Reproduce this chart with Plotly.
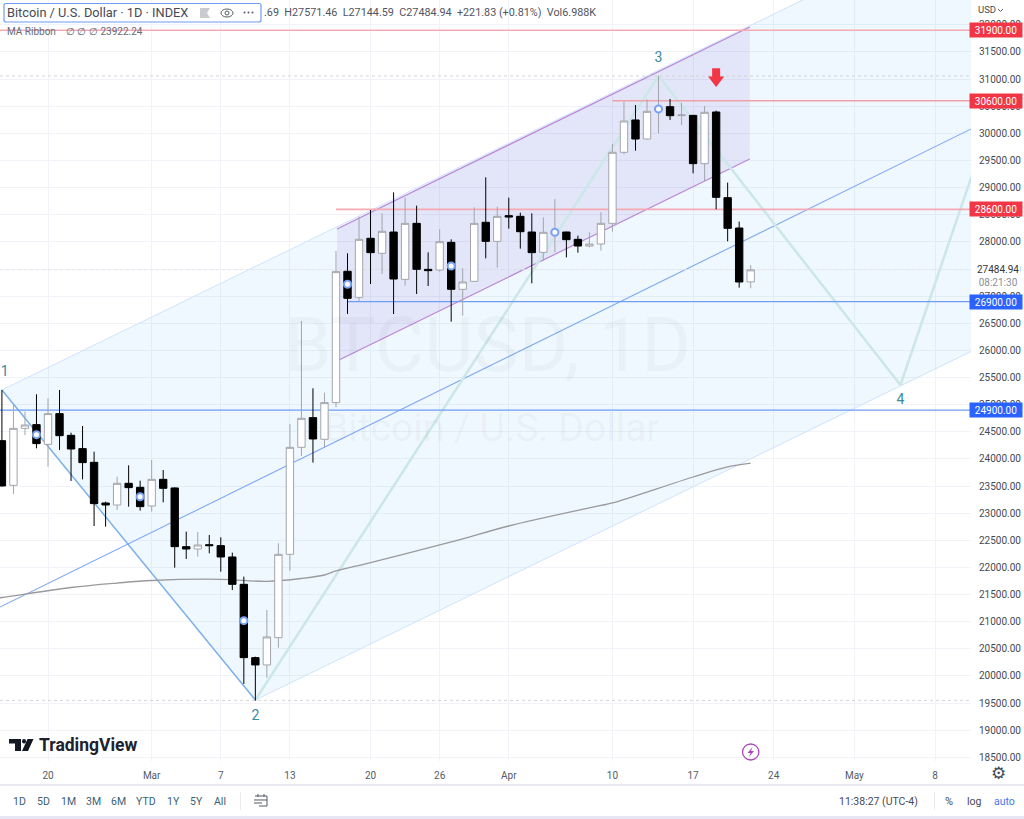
import pandas as pd
import plotly.graph_objects as go

# daily candles
candle_dates = pd.date_range("2023-02-16", "2023-04-22", freq="D")
candle_open = [24337, 23514, 24564, 24632, 24269, 24835, 24435, 24190, 23938, 23188, 23151, 23551, 23477,
               23133, 23624, 23465, 22383, 22340, 22420, 22402, 22193, 21689, 20338, 20203, 20706, 22242,
               24214, 24761, 24362, 25038, 27458, 26978, 28066, 27789, 28182, 27310, 28342, 27494, 27482,
               27992, 27126, 27273, 28361, 28010,
               28483, 28471, 28182, 27808, 28145, 28182, 28047, 27924, 27961, 28342, 29651, 30247, 29896,
               30419, 30492, 30326, 30332, 29442, 30394, 28815, 28256, 27263]
candle_high = [25271, 24994, 24871, 25191, 25117, 25271, 24484, 24607, 24134, 23213, 23673, 23882, 23600,
               23981, 23796, 23477, 22660, 22654, 22598, 22555, 22273, 21831, 20356, 21216, 22445, 24644,
               26543, 25302, 25222, 27833, 27790, 28465, 28588, 28526, 28913, 28815, 28668, 27808, 28232,
               28047, 27513, 28637, 29190, 28649,
               28815, 28539, 28526, 28453, 28790, 28188, 28115, 28176, 28545, 29804, 30584, 30523, 30627,
               31057, 30634, 30566, 30339, 30505, 30419, 29092, 28373, 27571]
candle_low = [23490, 23354, 24441, 24196, 23858, 24165, 23594, 23624, 22764, 22752, 23059, 23121, 23047,
              23028, 23200, 21996, 22156, 22199, 22261, 21923, 21585, 19853, 19545, 19969, 20522, 21941,
              24055, 23932, 24214, 24952, 26672, 26898, 27224, 27408, 26671, 27193, 27040, 27187, 27451,
              26530, 26640, 27273, 27697, 27525,
              28244, 27875, 27236, 27654, 27808, 27715, 27802, 27900, 27838, 28189, 29614, 29681, 29884,
              30001, 30247, 30154, 29264, 29122, 28600, 28010, 27157, 27145]
candle_close = [23502, 24564, 24626, 24282, 24835, 24429, 24183, 23932, 23176, 23151, 23551, 23471, 23121,
                23624, 23458, 22383, 22340, 22414, 22402, 22193, 21689, 20338, 20203, 20719, 22242, 24214,
                24749, 24368, 25038, 27452, 26960, 28047, 27802, 28195, 27316, 28342, 27494, 27470, 28004,
                27126, 27261, 28342, 28010, 28471,
                28459, 28188, 27802, 28176, 28195, 28041, 27924, 27961, 28342, 29651, 30228, 29896, 30406,
                30480, 30326, 30339, 29442, 30388, 28821, 28250, 27261, 27485]

# MA Ribbon line
ma_dates = ["2023-02-15", "2023-02-16", "2023-02-22", "2023-02-26", "2023-03-01", "2023-03-07", "2023-03-11",
            "2023-03-14", "2023-03-16", "2023-03-17", "2023-03-20", "2023-03-26", "2023-03-28", "2023-04-01",
            "2023-04-09", "2023-04-10", "2023-04-17", "2023-04-20", "2023-04-22"]
ma_values = [21419, 21446, 21631, 21713, 21760, 21782, 21745, 21797, 21861, 21935, 22088, 22414, 22525, 22764,
             23142, 23188, 23667, 23852, 23922]

# hand drawn channels and wave count
far_date = "2023-05-20"
fork_dates = ["2023-02-16", far_date, far_date, "2023-03-10", "2023-02-16"]
fork_prices = [25271, 34887, 26898, 19557, 25271]
median_dates = ["2023-02-15 20:00", far_date]
median_prices = [21271, 31008]
impulse_dates = ["2023-02-16", "2023-03-10"]
impulse_prices = [25271, 19557]
channel_dates = ["2023-03-17 02:00", "2023-04-21 22:00", "2023-04-21 22:00", "2023-03-17 02:00", "2023-03-17 02:00"]
channel_prices = [28238, 31961, 29528, 25805, 28238]
wave_dates = ["2023-03-10", "2023-04-14", "2023-05-05", far_date]
wave_prices = [19557, 31058, 25363, 34706]
wave_label_text = ["1", "2", "3", "4"]
wave_label_dates = ["2023-02-16 06:00", "2023-03-10", "2023-04-14", "2023-05-05"]
wave_label_prices = [25584, 19244, 31371, 25086]

level_prices = [31900, 30600, 28600, 26900, 24900]
level_starts = ["2023-02-10", "2023-04-10", "2023-03-17", "2023-03-18", "2023-02-10"]
level_colors = ["#f6a9b2", "#f1a0aa", "#f6a9b2", "#6f9cf5", "#6f9cf5"]
level_widths = [1.6, 1.6, 1.6, 1.3, 1.1]
badge_colors = ["#f23645", "#f23645", "#f23645", "#2962ff", "#2962ff"]
dotted_prices = [31058, 19550]
last_price = 27484.94
arrow_date = "2023-04-19"
arrow_tail = [31200, 31000]
arrow_head = 30984

signal_dates = ["2023-02-19", "2023-02-28", "2023-03-09", "2023-03-18", "2023-03-27", "2023-04-05", "2023-04-14"]
signal_prices = [24447, 23304, 21019, 27219, 27556, 28177, 30450]

price_ticks = [18500, 19000, 19500, 20000, 20500, 21000, 21500, 22000, 22500, 23000, 23500, 24000, 24500, 25000,
               25500, 26000, 26500, 27000, 27500, 28000, 28500, 29000, 29500, 30000, 30500, 31000, 31500, 32000]
tick_dates = ["2023-02-20", "2023-03-01", "2023-03-07", "2023-03-13", "2023-03-20", "2023-03-26", "2023-04-01",
              "2023-04-10", "2023-04-17", "2023-04-24", "2023-05-01", "2023-05-08"]
tick_labels = ["20", "Mar", "7", "13", "20", "26", "Apr", "10", "17", "24", "May", "8"]
toolbar_labels = ["1D", "5D", "1M", "3M", "6M", "YTD", "1Y", "5Y", "All"]
toolbar_x = [19, 43, 68, 93, 118, 146, 173, 196, 220]

WIDTH = 1024
HEIGHT = 819
PANE_RIGHT = 971
PANE_BOTTOM = 761
x_range = ["2023-02-15 20:00", "2023-05-11 03:00"]
y_range = [18433, 32458]
FONT = "Roboto"


def px(x):
    return x / WIDTH


def py(y):
    return 1 - y / HEIGHT


def label(x, y, text, size=10, color="#555b66", anchor="center", **kw):
    return dict(xref="paper", yref="paper", x=px(x), y=py(y), text=text, showarrow=False, xanchor=anchor,
                yanchor="middle", font=dict(family=FONT, size=size, color=color), **kw)


def box(x0, y0, x1, y1, fill, line=None, kind="rect", width=1):
    return dict(type=kind, xref="paper", yref="paper", x0=px(x0), x1=px(x1), y0=py(y0), y1=py(y1),
                fillcolor=fill, line=dict(color=line or "rgba(0,0,0,0)", width=width), layer="above")


def pixel_path(points, fill=None, line=None, width=1, closed=True):
    d = "M " + " L ".join(f"{px(a):.5f} {py(b):.5f}" for a, b in points) + (" Z" if closed else "")
    return dict(type="path", xref="paper", yref="paper", path=d, fillcolor=fill or "rgba(0,0,0,0)",
                line=dict(color=line or "rgba(0,0,0,0)", width=width), layer="above")


fig = go.Figure()

# drawings stay on the base axes so the candles sit on top of them
fig.add_trace(go.Scatter(x=fork_dates, y=fork_prices, mode="none", fill="toself",
                         fillcolor="rgba(33,150,243,0.07)"))
fig.add_trace(go.Scatter(x=fork_dates[:2], y=fork_prices[:2], mode="lines", line=dict(color="#cfe3fb", width=1)))
fig.add_trace(go.Scatter(x=fork_dates[2:4], y=fork_prices[2:4], mode="lines", line=dict(color="#cfe3fb", width=1)))
fig.add_trace(go.Scatter(x=channel_dates, y=channel_prices, mode="none", fill="toself",
                         fillcolor="rgba(103,58,183,0.09)"))
fig.add_trace(go.Scatter(x=channel_dates[:2], y=channel_prices[:2], mode="lines", line=dict(color="#bb86d8", width=1.2)))
fig.add_trace(go.Scatter(x=channel_dates[2:4], y=channel_prices[2:4], mode="lines", line=dict(color="#bb86d8", width=1.2)))
fig.add_trace(go.Scatter(x=median_dates, y=median_prices, mode="lines", line=dict(color="#7fa8f3", width=1.1)))
fig.add_trace(go.Scatter(x=impulse_dates, y=impulse_prices, mode="lines", line=dict(color="#7db0e8", width=1.5)))
fig.add_trace(go.Scatter(x=wave_dates, y=wave_prices, mode="lines", line=dict(color="#cde7e9", width=2.6)))
fig.add_trace(go.Scatter(x=ma_dates, y=ma_values, mode="lines", line=dict(color="#9a9a9e", width=1.3, shape="spline")))

for i in range(len(level_prices)):
    fig.add_trace(go.Scatter(x=[level_starts[i], far_date], y=[level_prices[i], level_prices[i]], mode="lines",
                             line=dict(color=level_colors[i], width=level_widths[i])))
for p in dotted_prices:
    fig.add_trace(go.Scatter(x=[x_range[0], far_date], y=[p, p], mode="lines",
                             line=dict(color="#cdcfd6", width=0.9, dash="dot")))
fig.add_trace(go.Scatter(x=[x_range[0], far_date], y=[last_price, last_price], mode="lines",
                         line=dict(color="#e6e8ee", width=1, dash="dot")))

fig.add_trace(go.Scatter(x=[arrow_date, arrow_date], y=arrow_tail, mode="lines",
                         line=dict(color="#f23645", width=8)))
fig.add_trace(go.Scatter(x=[arrow_date], y=[arrow_head], mode="markers",
                         marker=dict(symbol="triangle-down", size=14, color="#f23645")))
fig.add_trace(go.Scatter(x=wave_label_dates, y=wave_label_prices, mode="text", text=wave_label_text, cliponaxis=False,
                         textfont=dict(family=FONT, size=14, color="#3a8aa3")))

fig.add_trace(go.Candlestick(x=candle_dates, open=candle_open, high=candle_high, low=candle_low, close=candle_close,
                             xaxis="x2", yaxis="y2", whiskerwidth=0,
                             increasing=dict(line=dict(color="#a3a5aa", width=1), fillcolor="#ffffff"),
                             decreasing=dict(line=dict(color="#000000", width=1), fillcolor="#000000")))
fig.add_trace(go.Scatter(x=signal_dates, y=signal_prices, mode="markers", xaxis="x2", yaxis="y2",
                         marker=dict(symbol="circle", size=7, color="#ffffff", line=dict(color="#7ba2f2", width=2))))

annotations = [
    dict(xref="paper", yref="paper", x=px(487), y=py(345), text="BTCUSD, 1D", showarrow=False,
         font=dict(family=FONT, size=76, color="rgba(42,46,57,0.035)")),
    dict(xref="paper", yref="paper", x=px(492), y=py(428), text="Bitcoin / U.S. Dollar", showarrow=False,
         font=dict(family=FONT, size=39, color="rgba(42,46,57,0.05)")),
    label(7, 13, "Bitcoin / U.S. Dollar · 1D · INDEX", size=12.8, color="#444a55", anchor="left", xshift=-2),
    label(262, 13, ".69  H27571.46  L27144.59  C27484.94  +221.83 (+0.81%)  Vol6.988K", size=10.8,
          color="#50555f", anchor="left"),
    label(7, 32, "MA Ribbon", size=10, color="#666b75", anchor="left", xshift=-2),
    label(64, 32, "∅ ∅ ∅ 23922.24", size=10, color="#666b75", anchor="left"),
    label(987, 10, "USD", size=9.5, color="#444a55"),
    label(88, 745, "<b>TradingView</b>", size=17.5, color="#1e222d"),
    label(878, 801, "11:38:27 (UTC-4)", size=10.5, color="#444a55"),
    label(949, 801, "%", size=11, color="#444a55"),
    label(974, 801, "log", size=10.5, color="#444a55"),
    label(1004, 801, "auto", size=10.5, color="#3f78f0"),
    label(998, 773, "⚙", size=17, color="#444a55"),
]
annotations[-1]["font"]["family"] = "DejaVu Sans"
for i in range(len(toolbar_labels)):
    annotations.append(label(toolbar_x[i], 801, toolbar_labels[i], size=10.5, color="#3b5f72"))

# price scale labels, then the tags that cover some of them
for p in price_ticks:
    annotations.append(dict(xref="paper", yref="y", x=px(978), y=p, text=f"{p:.2f}", xanchor="left", showarrow=False,
                            borderpad=0, font=dict(family=FONT, size=10, color="#444a55")))
for i in range(len(level_prices)):
    annotations.append(dict(xref="paper", yref="y", x=px(996), y=level_prices[i], text=f"{level_prices[i]:.2f}",
                            xanchor="center", showarrow=False, width=50, height=12, bgcolor=badge_colors[i],
                            align="center", font=dict(family=FONT, size=10, color="#ffffff")))
annotations.append(label(998, 276, "27484.94<br><span style='color:#8a8e98'>08:21:30</span>", size=10,
                         color="#333742", bgcolor="#ffffff", borderpad=1))

shapes = [
    box(0, 784, 1024, 786, "#e9eaef"),
    box(0, 816, 1024, 819, "#e6e6f5"),
    box(240, 792, 240.8, 810, "#e6e7ec"),
    box(934, 792, 934.8, 810, "#e6e7ec"),
    # legend box and its icons
    dict(type="path", xref="paper", yref="paper", fillcolor="#ffffff", line=dict(color="#6f9cf5", width=1.2),
         layer="above",
         path=f"M {px(6)} {py(3.5)} L {px(259)} {py(3.5)} Q {px(261)} {py(3.5)} {px(261)} {py(5.5)} L {px(261)} {py(20)} "
              f"Q {px(261)} {py(22)} {px(259)} {py(22)} L {px(6)} {py(22)} Q {px(4)} {py(22)} {px(4)} {py(20)} "
              f"L {px(4)} {py(5.5)} Q {px(4)} {py(3.5)} {px(6)} {py(3.5)} Z"),
    pixel_path([(200, 8), (210, 8), (207, 13), (210, 18), (200, 18)], fill="#c9cbd0"),
    box(221, 9, 233, 17, "rgba(0,0,0,0)", line="#555b66", kind="circle"),
    box(225, 11, 229, 15, "rgba(0,0,0,0)", line="#555b66", kind="circle"),
    box(243.5, 11.5, 245.5, 13.5, "#555b66", kind="circle"),
    box(247.5, 11.5, 249.5, 13.5, "#555b66", kind="circle"),
    box(251.5, 11.5, 253.5, 13.5, "#555b66", kind="circle"),
    # chevron next to USD
    pixel_path([(998, 9), (1000.5, 11.5), (1003, 9)], line="#555b66", closed=False),
    # TradingView logo
    pixel_path([(9, 739), (21, 739), (21, 751), (15, 751), (15, 743.5), (9, 743.5)], fill="#131722"),
    box(22, 739, 26, 743.5, "#131722", kind="circle"),
    pixel_path([(27.5, 739), (33.5, 739), (28, 751), (22, 751)], fill="#131722"),
    # lightning circle
    box(742.5, 744, 758.9, 760, "rgba(0,0,0,0)", line="#ab47bc", kind="circle", width=1.3),
    pixel_path([(752.5, 747), (747.5, 753), (750.5, 753), (749, 757), (754, 751), (751, 751)], fill="#ab47bc"),
    # calendar icon
    pixel_path([(255, 796), (267, 796), (267, 806), (259, 806)], line="#555b66", closed=False),
    pixel_path([(254, 800), (267, 800)], line="#555b66", closed=False),
    pixel_path([(254, 803), (262, 803)], line="#555b66", closed=False),
    pixel_path([(258, 794), (258, 797)], line="#555b66", closed=False),
    pixel_path([(264, 794), (264, 797)], line="#555b66", closed=False),
]

fig.update_layout(
    width=WIDTH, height=HEIGHT, margin=dict(l=0, r=0, t=0, b=0), autosize=False,
    paper_bgcolor="#ffffff", plot_bgcolor="#ffffff", showlegend=False, hovermode=False,
    font=dict(family=FONT, size=10, color="#555b66"),
    annotations=annotations, shapes=shapes,
    boxgap=0.2, boxgroupgap=0.2,
    xaxis=dict(type="date", domain=[0, px(PANE_RIGHT)], range=x_range, tickmode="array", tickvals=tick_dates,
               ticktext=tick_labels, showgrid=True, gridcolor="#f1f3f8", gridwidth=1, zeroline=False,
               showline=False, ticks="outside", ticklen=5, tickcolor="rgba(0,0,0,0)",
               tickfont=dict(family=FONT, size=10, color="#555b66")),
    yaxis=dict(domain=[py(PANE_BOTTOM), 1], range=y_range, side="right", tickmode="array", tickvals=price_ticks,
               showticklabels=False, showgrid=True, gridcolor="#f1f3f8", gridwidth=1, zeroline=False,
               showline=False, ticks=""),
    xaxis2=dict(type="date", domain=[0, px(PANE_RIGHT)], range=x_range, overlaying="x", visible=False,
                rangeslider=dict(visible=False)),
    yaxis2=dict(domain=[py(PANE_BOTTOM), 1], range=y_range, overlaying="y", visible=False),
)

fig.write_html("out.html", config=dict(displayModeBar=False),
               post_script="document.body.style.margin='0';document.body.style.overflow='hidden';")
